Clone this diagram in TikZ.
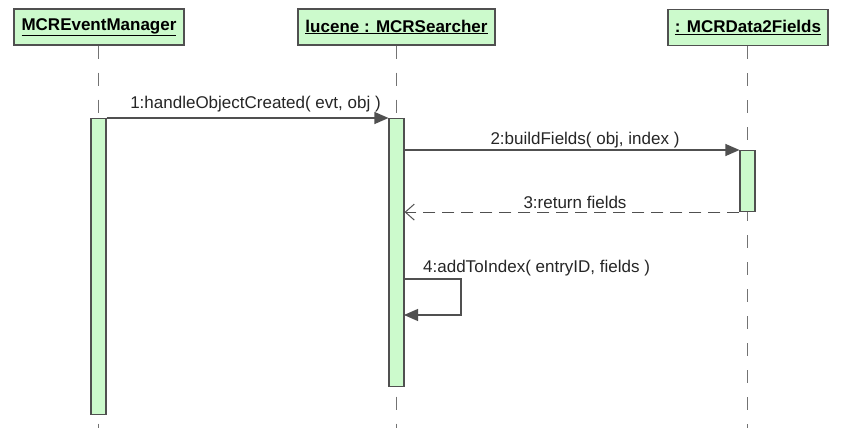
\documentclass[tikz,border=0pt]{standalone}
\usepackage{fontspec}
\setmainfont{Liberation Sans}
\usetikzlibrary{arrows.meta,calc}
\definecolor{actfill}{RGB}{204,250,204}
\definecolor{edge}{RGB}{80,80,80}
\begin{document}
\begin{tikzpicture}[x=1pt,y=-1pt,
  objbox/.style={draw=edge,fill=actfill,line width=1.2pt,minimum width=#1,minimum height=36pt,inner sep=0pt,font=\fontsize{17}{20}\selectfont\bfseries},
  actbar/.style={draw=edge,fill=actfill,line width=1.1pt,minimum width=15pt,minimum height=#1,inner sep=0pt,anchor=north},
  lifeline/.style={draw=edge!80,line width=1.1pt,dash pattern=on 13pt off 14pt},
  call/.style={draw=edge,line width=1.1pt,-{Triangle[length=14pt,width=12pt]}},
  ret/.style={draw=edge,line width=1.1pt,dash pattern=on 12pt off 7pt,-{Straight Barb[length=9pt,width=16pt,line width=1pt]}},
  lbl/.style={font=\fontsize{17}{20}\selectfont,inner sep=0pt,text=black!85}]
\useasboundingbox (0,0) rectangle (846,428);
\fill[white] (0,0) rectangle (846,428);
% objects
\node[objbox=170pt] (o1) at (99,27) {\underline{MCREventManager}};
\node[objbox=197pt] (o2) at (396.5,27) {\underline{lucene : MCRSearcher}};
\node[objbox=160pt] (o3) at (748,27.5) {\underline{: MCRData2Fields}};
% lifeline ends
\coordinate (e1) at (98.5,428);
\coordinate (e2) at (396.5,428);
\coordinate (e3) at (747.5,428);
\draw[lifeline] (o1.south -| e1) -- (e1);
\draw[lifeline] (o2.south -| e2) -- (e2);
\draw[lifeline] (o3.south -| e3) -- (e3);
% activations
\node[actbar=296pt] (a1) at (98.5,118) {};
\node[actbar=268pt] (a2) at (396.5,118) {};
\node[actbar=61pt] (a3) at (747.5,150) {};
% messages
\draw[call] (a1.north east) -- node[lbl,above=5pt,xshift=8pt] {1:handleObjectCreated( evt, obj )} (a2.north west);
\draw[call] (a2.east |- a3.north) -- node[lbl,above=1.5pt,xshift=13pt] {2:buildFields( obj, index )} (a3.north west);
\draw[ret] (a3.south west) -- node[lbl,above=3pt,xshift=3pt] {3:return fields} (a2.east |- a3.south);
\coordinate (s1) at (404,279);
\coordinate (s2) at (461,279);
\coordinate (s3) at (461,315);
\coordinate (s4) at (404,315);
\draw[call] (s1) -- (s2) -- (s3) -- (s4);
\node[lbl,anchor=south west] (l4) at (423,276) {4:addToIndex( entryID, fields )};
\end{tikzpicture}
\end{document}
